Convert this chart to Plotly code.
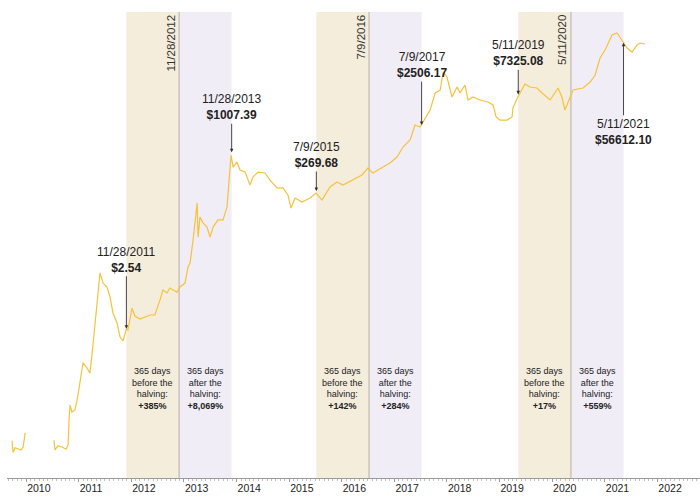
import math
import plotly.graph_objects as go

# ---- data ----
dates = [
    "2009-09-25", "2009-10-02", "2009-10-16", "2009-11-06", "2009-11-27", "2009-12-11", "2009-12-25",
    "2010-03-01",
    "2010-07-13", "2010-07-20", "2010-08-10", "2010-09-07", "2010-10-05", "2010-10-19", "2010-10-26",
    "2010-11-02", "2010-11-15", "2010-12-06", "2010-12-27",
    "2011-01-10", "2011-01-31", "2011-02-27", "2011-03-20", "2011-04-10", "2011-04-24", "2011-05-08",
    "2011-05-29", "2011-06-19", "2011-07-16", "2011-08-06", "2011-08-27", "2011-09-24", "2011-10-15",
    "2011-11-05", "2011-11-19", "2011-11-28", "2011-12-09",
    "2012-01-06", "2012-01-26", "2012-03-01", "2012-05-10", "2012-06-13", "2012-07-18", "2012-08-08",
    "2012-09-05", "2012-09-25", "2012-11-13", "2012-12-04",
    "2013-01-08", "2013-01-29", "2013-02-12", "2013-03-05", "2013-04-02", "2013-04-09", "2013-04-22",
    "2013-05-13", "2013-06-10", "2013-07-01", "2013-07-22", "2013-08-25", "2013-09-29", "2013-10-27",
    "2013-11-10", "2013-11-24", "2013-12-08",
    "2014-01-04", "2014-01-25", "2014-03-01", "2014-04-04", "2014-04-25", "2014-05-30", "2014-07-18",
    "2014-08-21", "2014-10-09", "2014-11-19", "2014-12-24",
    "2015-01-14", "2015-02-11", "2015-03-31", "2015-05-26", "2015-07-07", "2015-08-03", "2015-08-17",
    "2015-10-12", "2015-11-29",
    "2016-01-10", "2016-03-19", "2016-05-21", "2016-07-01", "2016-08-05", "2016-10-14", "2016-12-01",
    "2017-01-19", "2017-03-02", "2017-04-20", "2017-05-24", "2017-06-28", "2017-07-19", "2017-09-06",
    "2017-10-11", "2017-11-15", "2017-12-06",
    "2018-01-01", "2018-02-05", "2018-03-12", "2018-04-02", "2018-05-06", "2018-05-27", "2018-07-01",
    "2018-08-19", "2018-10-13", "2018-11-17", "2018-12-08",
    "2019-01-04", "2019-02-22", "2019-03-29", "2019-04-04", "2019-05-09", "2019-06-27", "2019-07-31",
    "2019-09-18", "2019-10-23", "2019-12-18",
    "2020-02-11", "2020-03-09", "2020-03-30", "2020-05-05", "2020-05-26", "2020-08-03", "2020-09-21",
    "2020-10-26", "2020-11-29",
    "2021-01-03", "2021-01-24", "2021-02-20", "2021-03-27", "2021-04-17", "2021-05-08", "2021-06-05",
    "2021-07-09", "2021-08-13", "2021-09-03", "2021-10-08",
]
prices = [
    0.051, 0.034, 0.040, 0.038, 0.037, 0.041, 0.067,
    None,
    0.052, 0.037, 0.043, 0.041, 0.038, 0.044, 0.105,
    0.177, 0.139, 0.149, 0.252,
    0.425, 0.77, 0.65, 0.54, 1.44, 3.10, 6.9,
    17.8, 12.5, 10.9, 7.7, 4.4, 3.1, 1.9,
    1.66, 2.27, 2.54, 2.43,
    5.2, 3.96, 3.57, 4.1, 4.1, 6.9, 9.8,
    8.85, 10.5, 9.1, 10.9,
    12.5, 21.9, 25.1, 56, 204, 62, 125,
    102, 88, 62, 88, 113, 113, 178,
    455, 1089, 716,
    853, 645, 601, 383, 505, 601, 581,
    455, 345, 345, 270,
    171, 243, 211, 243, 289, 243, 226,
    357, 424,
    383, 455, 542, 692, 581, 716, 824,
    1016, 1440, 1838, 3100, 2893, 3447, 5236,
    9480, 10520, 19720,
    16560, 8240, 11690, 9480, 12530, 7430, 8240,
    7430, 6920, 6240, 4100,
    3690, 3690, 4100, 5610, 8300, 12970, 11690,
    11280, 9480, 7430,
    11280, 8240, 5236, 8240, 10520, 11280, 13900,
    17750, 32100,
    42420, 54200, 71640, 76900, 66800, 56100, 45500,
    39600, 50600, 54200, 52400,
]

halvings = ["2012-11-28", "2016-07-09", "2020-05-11"]
halving_labels = ["11/28/2012", "7/9/2016", "5/11/2020"]
before_start = ["2011-11-28", "2015-07-09", "2019-05-11"]
after_end = ["2013-11-28", "2017-07-09", "2021-05-11"]
before_mid = ["2012-05-29", "2016-01-07", "2019-11-09"]
after_mid = ["2013-05-29", "2017-01-07", "2020-11-09"]
before_pct = ["+385%", "+142%", "+17%"]
after_pct = ["+8,069%", "+284%", "+559%"]

callout_dates = ["2011-11-28", "2013-11-28", "2015-07-09", "2017-07-09", "2019-05-11", "2021-05-11"]
callout_labels = ["11/28/2011", "11/28/2013", "7/9/2015", "7/9/2017", "5/11/2019", "5/11/2021"]
callout_prices = [2.54, 1007.39, 269.68, 2506.17, 7325.08, 56612.10]
callout_price_text = ["$2.54", "$1007.39", "$269.68", "$2506.17", "$7325.08", "$56612.10"]

# ---- styles ----
TAN = "#f4eddc"
LAV = "#f1edf6"
LINE = "#f4c23c"
TXT = "#222222"
FONT = "Liberation Sans"
callout_ay = [-69, -50, -40, -66, -47, 90]
callout_standoff = [0, 5, 4, 6, 6, 1]

fig = go.Figure()
fig.add_trace(go.Scatter(
    x=dates, y=prices, mode="lines",
    line=dict(color=LINE, width=1.2),
    connectgaps=False, hoverinfo="x+y", showlegend=False,
))

shapes = []
for bs, h, ae in zip(before_start, halvings, after_end):
    shapes.append(dict(type="rect", xref="x", yref="paper", x0=bs, x1=h, y0=0, y1=1,
                       fillcolor=TAN, line=dict(width=0), layer="below"))
    shapes.append(dict(type="rect", xref="x", yref="paper", x0=h, x1=ae, y0=0, y1=1,
                       fillcolor=LAV, line=dict(width=0), layer="below"))
    shapes.append(dict(type="line", xref="x", yref="paper", x0=h, x1=h, y0=0, y1=1,
                       line=dict(color="#b5ada6", width=1), layer="below"))

annotations = []
for h, lab in zip(halvings, halving_labels):
    annotations.append(dict(x=h, y=1, xref="x", yref="paper", text=lab, textangle=-90,
                            xanchor="right", yanchor="top", xshift=-1, yshift=-1,
                            showarrow=False, font=dict(family=FONT, size=11.5, color="#333333")))

for bm, am, bp, ap in zip(before_mid, after_mid, before_pct, after_pct):
    annotations.append(dict(x=bm, y=0.193, xref="x", yref="paper",
                            text="365 days<br>before the<br>halving:<br><b>" + bp + "</b>",
                            showarrow=False, align="center", yanchor="middle",
                            font=dict(family=FONT, size=9, color=TXT)))
    annotations.append(dict(x=am, y=0.193, xref="x", yref="paper",
                            text="365 days<br>after the<br>halving:<br><b>" + ap + "</b>",
                            showarrow=False, align="center", yanchor="middle",
                            font=dict(family=FONT, size=9, color=TXT)))

for d, lab, p, pt, ay, so in zip(callout_dates, callout_labels, callout_prices,
                                 callout_price_text, callout_ay, callout_standoff):
    annotations.append(dict(x=d, y=math.log10(p), xref="x", yref="y",
                            text=lab + "<br><b>" + pt + "</b>",
                            showarrow=True, arrowhead=2, arrowsize=0.8, arrowwidth=0.9,
                            arrowcolor="#333333", ax=0, ay=ay, standoff=so,
                            font=dict(family=FONT, size=12, color=TXT)))

fig.update_layout(
    width=700, height=500,
    margin=dict(l=7, r=0, t=12, b=22),
    paper_bgcolor="white", plot_bgcolor="white",
    shapes=shapes, annotations=annotations,
    font=dict(family=FONT, color=TXT),
    xaxis=dict(
        type="date", range=["2009-08-21", "2022-10-24"],
        showgrid=False, zeroline=False,
        showline=True, linecolor="#9a9a9a", linewidth=1,
        ticks="outside", ticklen=3, tickcolor="#9a9a9a",
        tick0="2010-01-01", dtick="M12", tickformat="%Y",
        ticklabelposition="outside right",
        tickfont=dict(family=FONT, size=10.5, color=TXT),
        minor=dict(dtick="M1", ticks="outside", ticklen=2, tickcolor="#c0c0c0"),
    ),
    yaxis=dict(type="log", range=[-1.857, 5.204], visible=False, showgrid=False),
)

fig.write_html("out.html", config={"displayModeBar": False},
               post_script="document.body.style.margin='0px';")
